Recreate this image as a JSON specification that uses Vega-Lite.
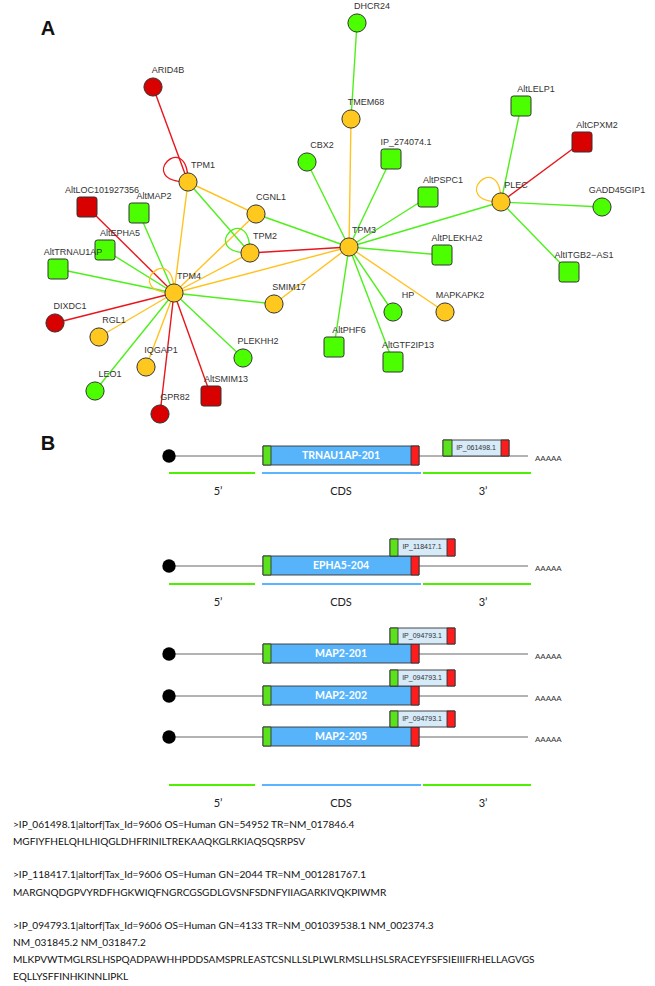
{
  "$schema": "https://vega.github.io/schema/vega-lite/v6.json",
  "width": 655,
  "height": 986,
  "padding": 0,
  "autosize": {"type": "none"},
  "config": {"view": {"stroke": null}, "font": "Liberation Sans"},
  "resolve": {"scale": {"fill": "independent", "stroke": "independent", "color": "independent"}},
  "datasets": {
    "nodes": [
      {"id": "ARID4B", "x": 153, "y": 87, "shape": "circle", "kind": "red"},
      {"id": "TPM1", "x": 188, "y": 182, "shape": "circle", "kind": "orange"},
      {"id": "CBX2", "x": 307, "y": 162, "shape": "circle", "kind": "green"},
      {"id": "AltLOC101927356", "x": 87, "y": 207, "shape": "square", "kind": "red"},
      {"id": "AltMAP2", "x": 139, "y": 213, "shape": "square", "kind": "green"},
      {"id": "CGNL1", "x": 256, "y": 214, "shape": "circle", "kind": "orange"},
      {"id": "DHCR24", "x": 357, "y": 23, "shape": "circle", "kind": "green"},
      {"id": "TMEM68", "x": 351, "y": 119, "shape": "circle", "kind": "orange"},
      {"id": "IP_274074.1", "x": 391, "y": 159, "shape": "square", "kind": "green"},
      {"id": "AltPSPC1", "x": 428, "y": 197, "shape": "square", "kind": "green"},
      {"id": "PLEC", "x": 501, "y": 202, "shape": "circle", "kind": "orange"},
      {"id": "AltLELP1", "x": 521, "y": 106, "shape": "square", "kind": "green"},
      {"id": "AltCPXM2", "x": 582, "y": 142, "shape": "square", "kind": "red"},
      {"id": "GADD45GIP1", "x": 602, "y": 207, "shape": "circle", "kind": "green"},
      {"id": "AltEPHA5", "x": 105, "y": 250, "shape": "square", "kind": "green"},
      {"id": "AltTRNAU1AP", "x": 58, "y": 269, "shape": "square", "kind": "green"},
      {"id": "TPM2", "x": 250, "y": 253, "shape": "circle", "kind": "orange"},
      {"id": "TPM4", "x": 174, "y": 293, "shape": "circle", "kind": "orange"},
      {"id": "SMIM17", "x": 274, "y": 304, "shape": "circle", "kind": "orange"},
      {"id": "DIXDC1", "x": 55, "y": 323, "shape": "circle", "kind": "red"},
      {"id": "RGL1", "x": 99, "y": 337, "shape": "circle", "kind": "orange"},
      {"id": "IQGAP1", "x": 146, "y": 367, "shape": "circle", "kind": "orange"},
      {"id": "PLEKHH2", "x": 243, "y": 358, "shape": "circle", "kind": "green"},
      {"id": "LEO1", "x": 95, "y": 391, "shape": "circle", "kind": "green"},
      {"id": "AltSMIM13", "x": 211, "y": 396, "shape": "square", "kind": "red"},
      {"id": "GPR82", "x": 160, "y": 414, "shape": "circle", "kind": "red"},
      {"id": "TPM3", "x": 349, "y": 247, "shape": "circle", "kind": "orange"},
      {"id": "AltPLEKHA2", "x": 442, "y": 255, "shape": "square", "kind": "green"},
      {"id": "AltITGB2−AS1", "x": 569, "y": 272, "shape": "square", "kind": "green"},
      {"id": "HP", "x": 393, "y": 312, "shape": "circle", "kind": "green"},
      {"id": "MAPKAPK2", "x": 445, "y": 312, "shape": "circle", "kind": "orange"},
      {"id": "AltPHF6", "x": 334, "y": 347, "shape": "square", "kind": "green"},
      {"id": "AltGTF2IP13", "x": 393, "y": 362, "shape": "square", "kind": "green"}
    ],
    "edges": [
      {"source": "ARID4B", "target": "TPM1", "kind": "red"},
      {"source": "AltLOC101927356", "target": "TPM4", "kind": "red"},
      {"source": "DIXDC1", "target": "TPM4", "kind": "red"},
      {"source": "GPR82", "target": "TPM4", "kind": "red"},
      {"source": "AltSMIM13", "target": "TPM4", "kind": "red"},
      {"source": "TPM2", "target": "TPM3", "kind": "red"},
      {"source": "PLEC", "target": "AltCPXM2", "kind": "red"},
      {"source": "TPM1", "target": "TPM4", "kind": "orange"},
      {"source": "TPM1", "target": "CGNL1", "kind": "orange"},
      {"source": "CGNL1", "target": "TPM4", "kind": "orange"},
      {"source": "TPM2", "target": "TPM4", "kind": "orange"},
      {"source": "TPM4", "target": "TPM3", "kind": "orange"},
      {"source": "SMIM17", "target": "TPM3", "kind": "orange"},
      {"source": "RGL1", "target": "TPM4", "kind": "orange"},
      {"source": "IQGAP1", "target": "TPM4", "kind": "orange"},
      {"source": "TMEM68", "target": "TPM3", "kind": "orange"},
      {"source": "MAPKAPK2", "target": "TPM3", "kind": "orange"},
      {"source": "DHCR24", "target": "TMEM68", "kind": "green"},
      {"source": "CBX2", "target": "TPM3", "kind": "green"},
      {"source": "IP_274074.1", "target": "TPM3", "kind": "green"},
      {"source": "AltPSPC1", "target": "TPM3", "kind": "green"},
      {"source": "TPM3", "target": "PLEC", "kind": "green"},
      {"source": "TPM3", "target": "AltPLEKHA2", "kind": "green"},
      {"source": "TPM3", "target": "HP", "kind": "green"},
      {"source": "TPM3", "target": "AltPHF6", "kind": "green"},
      {"source": "TPM3", "target": "AltGTF2IP13", "kind": "green"},
      {"source": "CGNL1", "target": "TPM3", "kind": "green"},
      {"source": "TPM1", "target": "TPM2", "kind": "green"},
      {"source": "AltMAP2", "target": "TPM4", "kind": "green"},
      {"source": "AltEPHA5", "target": "TPM4", "kind": "green"},
      {"source": "AltTRNAU1AP", "target": "TPM4", "kind": "green"},
      {"source": "SMIM17", "target": "TPM4", "kind": "green"},
      {"source": "PLEKHH2", "target": "TPM4", "kind": "green"},
      {"source": "LEO1", "target": "TPM4", "kind": "green"},
      {"source": "PLEC", "target": "AltLELP1", "kind": "green"},
      {"source": "PLEC", "target": "GADD45GIP1", "kind": "green"},
      {"source": "PLEC", "target": "AltITGB2−AS1", "kind": "green"}
    ],
    "loops": [
      {"node": "TPM1", "kind": "red"},
      {"node": "TPM4", "kind": "orange"},
      {"node": "TPM2", "kind": "green"},
      {"node": "PLEC", "kind": "orange"}
    ],
    "letters": [
      {"x": 48, "y": 29, "text": "A"},
      {"x": 48, "y": 444, "text": "B"}
    ],
    "rows": [
      {"name": "TRNAU1AP-201", "x": 169, "x2": 528, "y": 456},
      {"name": "EPHA5-204", "x": 169, "x2": 528, "y": 566},
      {"name": "MAP2-201", "x": 169, "x2": 528, "y": 654},
      {"name": "MAP2-202", "x": 169, "x2": 528, "y": 696},
      {"name": "MAP2-205", "x": 169, "x2": 528, "y": 737}
    ],
    "boxes": [
      {"x": 263, "x2": 419, "y": 446, "y2": 465, "part": "cds"},
      {"x": 263, "x2": 271, "y": 446, "y2": 465, "part": "start"},
      {"x": 411, "x2": 419, "y": 446, "y2": 465, "part": "stop"},
      {"x": 443, "x2": 509, "y": 440, "y2": 456, "part": "orf"},
      {"x": 443, "x2": 452, "y": 440, "y2": 456, "part": "start"},
      {"x": 501, "x2": 509, "y": 440, "y2": 456, "part": "stop"},
      {"x": 263, "x2": 419, "y": 556, "y2": 575, "part": "cds"},
      {"x": 263, "x2": 271, "y": 556, "y2": 575, "part": "start"},
      {"x": 411, "x2": 419, "y": 556, "y2": 575, "part": "stop"},
      {"x": 390, "x2": 455, "y": 539, "y2": 556, "part": "orf"},
      {"x": 390, "x2": 398, "y": 539, "y2": 556, "part": "start"},
      {"x": 447, "x2": 455, "y": 539, "y2": 556, "part": "stop"},
      {"x": 263, "x2": 419, "y": 644, "y2": 663, "part": "cds"},
      {"x": 263, "x2": 271, "y": 644, "y2": 663, "part": "start"},
      {"x": 411, "x2": 419, "y": 644, "y2": 663, "part": "stop"},
      {"x": 390, "x2": 455, "y": 628, "y2": 644, "part": "orf"},
      {"x": 390, "x2": 398, "y": 628, "y2": 644, "part": "start"},
      {"x": 447, "x2": 455, "y": 628, "y2": 644, "part": "stop"},
      {"x": 263, "x2": 419, "y": 686, "y2": 705, "part": "cds"},
      {"x": 263, "x2": 271, "y": 686, "y2": 705, "part": "start"},
      {"x": 411, "x2": 419, "y": 686, "y2": 705, "part": "stop"},
      {"x": 390, "x2": 455, "y": 670, "y2": 686, "part": "orf"},
      {"x": 390, "x2": 398, "y": 670, "y2": 686, "part": "start"},
      {"x": 447, "x2": 455, "y": 670, "y2": 686, "part": "stop"},
      {"x": 263, "x2": 419, "y": 727, "y2": 746, "part": "cds"},
      {"x": 263, "x2": 271, "y": 727, "y2": 746, "part": "start"},
      {"x": 411, "x2": 419, "y": 727, "y2": 746, "part": "stop"},
      {"x": 390, "x2": 455, "y": 711, "y2": 727, "part": "orf"},
      {"x": 390, "x2": 398, "y": 711, "y2": 727, "part": "start"},
      {"x": 447, "x2": 455, "y": 711, "y2": 727, "part": "stop"}
    ],
    "txnames": [
      {"x": 341, "y": 456, "text": "TRNAU1AP-201"},
      {"x": 341, "y": 566, "text": "EPHA5-204"},
      {"x": 341, "y": 654, "text": "MAP2-201"},
      {"x": 341, "y": 696, "text": "MAP2-202"},
      {"x": 341, "y": 737, "text": "MAP2-205"}
    ],
    "orfnames": [
      {"x": 476, "y": 448, "text": "IP_061498.1"},
      {"x": 422, "y": 547, "text": "IP_118417.1"},
      {"x": 422, "y": 636, "text": "IP_094793.1"},
      {"x": 422, "y": 678, "text": "IP_094793.1"},
      {"x": 422, "y": 719, "text": "IP_094793.1"}
    ],
    "bars": [
      {"x": 169, "x2": 255, "y": 473, "part": "utr"},
      {"x": 262, "x2": 421, "y": 473, "part": "cds"},
      {"x": 423, "x2": 531, "y": 473, "part": "utr"},
      {"x": 169, "x2": 255, "y": 584, "part": "utr"},
      {"x": 262, "x2": 421, "y": 584, "part": "cds"},
      {"x": 423, "x2": 531, "y": 584, "part": "utr"},
      {"x": 169, "x2": 255, "y": 785, "part": "utr"},
      {"x": 262, "x2": 421, "y": 785, "part": "cds"},
      {"x": 423, "x2": 531, "y": 785, "part": "utr"}
    ],
    "barlabels": [
      {"x": 218, "y": 492, "text": "5’"},
      {"x": 341, "y": 492, "text": "CDS"},
      {"x": 483, "y": 492, "text": "3’"},
      {"x": 218, "y": 603, "text": "5’"},
      {"x": 341, "y": 603, "text": "CDS"},
      {"x": 483, "y": 603, "text": "3’"},
      {"x": 218, "y": 804, "text": "5’"},
      {"x": 341, "y": 804, "text": "CDS"},
      {"x": 483, "y": 804, "text": "3’"}
    ],
    "seqs": [
      {"x": 13, "y": 825, "text": ">IP_061498.1|altorf|Tax_Id=9606 OS=Human GN=54952 TR=NM_017846.4"},
      {"x": 13, "y": 842, "text": "MGFIYFHELQHLHIQGLDHFRINILTREKAAQKGLRKIAQSQSRPSV"},
      {"x": 13, "y": 875, "text": ">IP_118417.1|altorf|Tax_Id=9606 OS=Human GN=2044 TR=NM_001281767.1"},
      {"x": 13, "y": 893, "text": "MARGNQDGPVYRDFHGKWIQFNGRCGSGDLGVSNFSDNFYIIAGARKIVQKPIWMR"},
      {"x": 13, "y": 926, "text": ">IP_094793.1|altorf|Tax_Id=9606 OS=Human GN=4133 TR=NM_001039538.1 NM_002374.3"},
      {"x": 13, "y": 943, "text": "NM_031845.2 NM_031847.2"},
      {"x": 13, "y": 960, "text": "MLKPVWTMGLRSLHSPQADPAWHHPDDSAMSPRLEASTCSNLLSLPLWLRMSLLHSLSRACEYFSFSIEIIIFRHELLAGVGS"},
      {"x": 13, "y": 977, "text": "EQLLYSFFINHKINNLIPKL"}
    ]
  },
  "layer": [
    {
      "data": {"name": "edges"},
      "transform": [
        {"lookup": "source", "from": {"data": {"name": "nodes"}, "key": "id", "fields": ["x", "y"]}, "as": ["sx", "sy"]},
        {"lookup": "target", "from": {"data": {"name": "nodes"}, "key": "id", "fields": ["x", "y"]}, "as": ["tx", "ty"]}
      ],
      "mark": {"type": "rule", "strokeWidth": 1.4},
      "encoding": {
        "x": {"field": "sx", "type": "quantitative", "scale": {"domain": [0, 655], "nice": false, "zero": false}, "axis": null},
        "y": {"field": "sy", "type": "quantitative", "scale": {"domain": [0, 986], "reverse": true, "nice": false, "zero": false}, "axis": null},
        "x2": {"field": "tx"},
        "y2": {"field": "ty"},
        "stroke": {"field": "kind", "type": "nominal", "scale": {"domain": ["red", "orange", "green"], "range": ["#e8161c", "#ffc21f", "#4ef01a"]}, "legend": null}
      }
    },
    {
      "data": {"name": "loops"},
      "transform": [
        {"lookup": "node", "from": {"data": {"name": "nodes"}, "key": "id", "fields": ["x", "y"]}}
      ],
      "mark": {"type": "point", "shape": "M0,0C0,-2.25 -2.25,0 0,0", "size": 2400, "filled": false, "strokeWidth": 1.4, "opacity": 1},
      "encoding": {
        "x": {"field": "x", "type": "quantitative", "axis": null},
        "y": {"field": "y", "type": "quantitative", "axis": null},
        "stroke": {"field": "kind", "type": "nominal", "scale": {"domain": ["red", "orange", "green"], "range": ["#e8161c", "#ffc21f", "#4ef01a"]}, "legend": null}
      }
    },
    {
      "data": {"name": "nodes"},
      "transform": [{"filter": "datum.shape === 'circle'"}],
      "mark": {"type": "point", "shape": "circle", "size": 330, "filled": true, "stroke": "#333333", "strokeWidth": 1, "opacity": 1},
      "encoding": {
        "x": {"field": "x", "type": "quantitative", "axis": null},
        "y": {"field": "y", "type": "quantitative", "axis": null},
        "fill": {"field": "kind", "type": "nominal", "scale": {"domain": ["red", "orange", "green"], "range": ["#d90000", "#ffc81e", "#4cff00"]}, "legend": null}
      }
    },
    {
      "data": {"name": "nodes"},
      "transform": [{"filter": "datum.shape === 'square'"}],
      "mark": {"type": "point", "shape": "M-0.75,-1L0.75,-1Q1,-1 1,-0.75L1,0.75Q1,1 0.75,1L-0.75,1Q-1,1 -1,0.75L-1,-0.75Q-1,-1 -0.75,-1Z", "size": 400, "filled": true, "stroke": "#333333", "strokeWidth": 1, "opacity": 1},
      "encoding": {
        "x": {"field": "x", "type": "quantitative", "axis": null},
        "y": {"field": "y", "type": "quantitative", "axis": null},
        "fill": {"field": "kind", "type": "nominal", "scale": {"domain": ["red", "orange", "green"], "range": ["#d90000", "#ffc81e", "#4cff00"]}, "legend": null}
      }
    },
    {
      "data": {"name": "nodes"},
      "mark": {"type": "text", "dx": 15, "dy": -17, "fontSize": 9, "fill": "#333333", "align": "center", "baseline": "middle"},
      "encoding": {
        "x": {"field": "x", "type": "quantitative", "axis": null},
        "y": {"field": "y", "type": "quantitative", "axis": null},
        "text": {"field": "id"}
      }
    },
    {
      "data": {"name": "letters"},
      "mark": {"type": "text", "fontSize": 20, "fontWeight": "bold", "fill": "#111111", "align": "center", "baseline": "middle"},
      "encoding": {
        "x": {"field": "x", "type": "quantitative", "axis": null},
        "y": {"field": "y", "type": "quantitative", "axis": null},
        "text": {"field": "text"}
      }
    },
    {
      "data": {"name": "rows"},
      "mark": {"type": "rule", "stroke": "#666666", "strokeWidth": 1},
      "encoding": {
        "x": {"field": "x", "type": "quantitative", "axis": null},
        "x2": {"field": "x2"},
        "y": {"field": "y", "type": "quantitative", "axis": null}
      }
    },
    {
      "data": {"name": "rows"},
      "mark": {"type": "point", "shape": "circle", "size": 180, "filled": true, "fill": "#000000", "opacity": 1},
      "encoding": {
        "x": {"field": "x", "type": "quantitative", "axis": null},
        "y": {"field": "y", "type": "quantitative", "axis": null}
      }
    },
    {
      "data": {"name": "rows"},
      "mark": {"type": "text", "text": "AAAAA", "dx": 7, "dy": 3, "fontSize": 8, "fill": "#333333", "align": "left", "baseline": "middle"},
      "encoding": {
        "x": {"field": "x2", "type": "quantitative", "axis": null},
        "y": {"field": "y", "type": "quantitative", "axis": null}
      }
    },
    {
      "data": {"name": "boxes"},
      "mark": {"type": "rect", "stroke": "#333333", "strokeWidth": 0.9},
      "encoding": {
        "x": {"field": "x", "type": "quantitative", "axis": null},
        "x2": {"field": "x2"},
        "y": {"field": "y", "type": "quantitative", "axis": null},
        "y2": {"field": "y2"},
        "fill": {"field": "part", "type": "nominal", "scale": {"domain": ["cds", "start", "stop", "orf"], "range": ["#57b4fa", "#5ce21c", "#ff1c1c", "#d6eaf8"]}, "legend": null}
      }
    },
    {
      "data": {"name": "txnames"},
      "mark": {"type": "text", "fontSize": 10.5, "fontWeight": "bold", "fill": "#ffffff", "align": "center", "baseline": "middle", "font": "Lato"},
      "encoding": {
        "x": {"field": "x", "type": "quantitative", "axis": null},
        "y": {"field": "y", "type": "quantitative", "axis": null},
        "text": {"field": "text"}
      }
    },
    {
      "data": {"name": "orfnames"},
      "mark": {"type": "text", "fontSize": 7, "fill": "#333333", "align": "center", "baseline": "middle"},
      "encoding": {
        "x": {"field": "x", "type": "quantitative", "axis": null},
        "y": {"field": "y", "type": "quantitative", "axis": null},
        "text": {"field": "text"}
      }
    },
    {
      "data": {"name": "bars"},
      "mark": {"type": "rule", "strokeWidth": 1.8},
      "encoding": {
        "x": {"field": "x", "type": "quantitative", "axis": null},
        "x2": {"field": "x2"},
        "y": {"field": "y", "type": "quantitative", "axis": null},
        "stroke": {"field": "part", "type": "nominal", "scale": {"domain": ["utr", "cds"], "range": ["#4cf000", "#5ab4ff"]}, "legend": null}
      }
    },
    {
      "data": {"name": "barlabels"},
      "mark": {"type": "text", "fontSize": 11, "fill": "#222222", "align": "center", "baseline": "middle", "font": "Lato"},
      "encoding": {
        "x": {"field": "x", "type": "quantitative", "axis": null},
        "y": {"field": "y", "type": "quantitative", "axis": null},
        "text": {"field": "text"}
      }
    },
    {
      "data": {"name": "seqs"},
      "mark": {"type": "text", "fontSize": 10.1, "fill": "#111111", "align": "left", "baseline": "middle", "font": "Lato"},
      "encoding": {
        "x": {"field": "x", "type": "quantitative", "axis": null},
        "y": {"field": "y", "type": "quantitative", "axis": null},
        "text": {"field": "text"}
      }
    }
  ]
}
